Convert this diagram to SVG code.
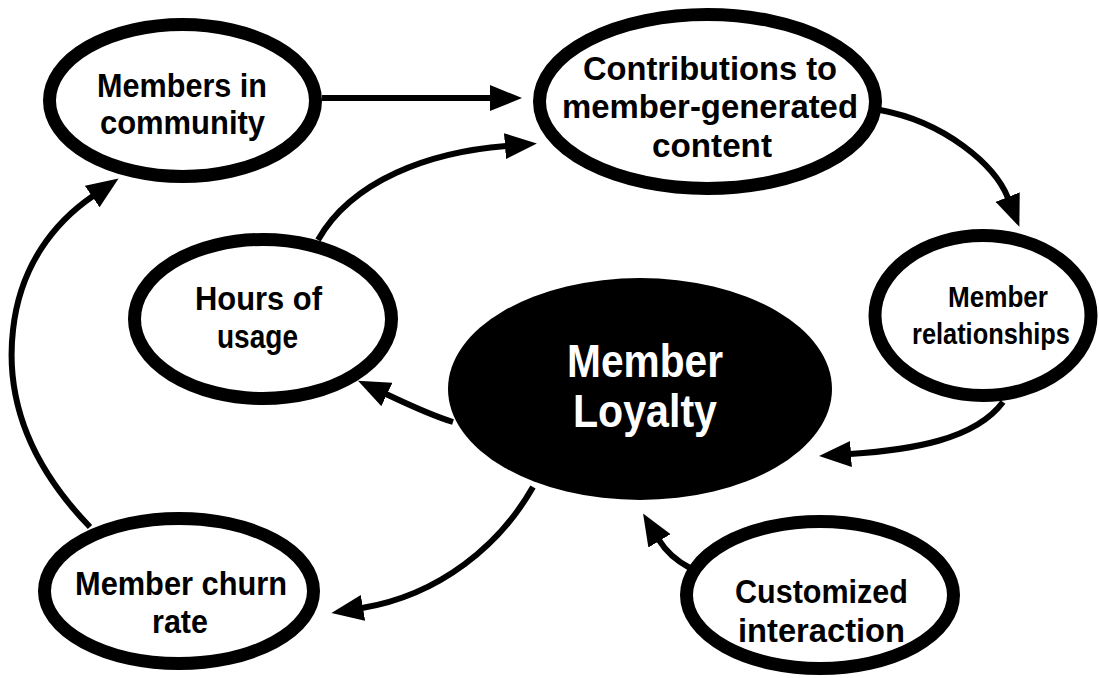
<svg xmlns="http://www.w3.org/2000/svg" width="1099" height="678" viewBox="0 0 1099 678">
<style>
.node{fill:#fff;stroke:#000;stroke-width:13}
.core{fill:#000;stroke:none}
.lbl{font-family:"Liberation Sans",Arial,sans-serif;font-weight:bold;font-size:34px;fill:#000;text-anchor:middle}
.sm{font-size:29px}
.big{font-size:47px;fill:#fff}
.conn{fill:none;stroke:#000;stroke-width:6;stroke-linecap:butt}
</style>
<defs>
<marker id="ah" markerUnits="userSpaceOnUse" viewBox="0 0 32 26" markerWidth="32" markerHeight="26" refX="1" refY="13" orient="auto">
<path d="M0,0 L32,13 L0,26 Z" fill="#000"/>
</marker>
</defs>
<rect width="1099" height="678" fill="#fff"/>
<g id="connectors">
<path class="conn" marker-end="url(#ah)" d="M322,98 L491,98"/>
<path class="conn" marker-end="url(#ah)" d="M318,240 C352,180 430,152 506,146"/>
<path class="conn" marker-end="url(#ah)" d="M880,110 C945,122 995,165 1008,198"/>
<path class="conn" marker-end="url(#ah)" d="M1003,402 C975,440 910,450 850,454"/>
<path class="conn" marker-end="url(#ah)" d="M690,568 C675,560 665,550 659,540"/>
<path class="conn" marker-end="url(#ah)" d="M453,422 C430,415 405,403 386,394"/>
<path class="conn" marker-end="url(#ah)" d="M533,487 C500,545 440,595 362,608"/>
<path class="conn" marker-end="url(#ah)" d="M90,527 C30,465 5,400 13,330 C20,265 55,222 93,196"/>
</g>
<g id="members-in-community">
<ellipse class="node" cx="182.5" cy="100.5" rx="133" ry="76"/>
<text class="lbl" x="182" y="97" textLength="170" lengthAdjust="spacingAndGlyphs">Members in</text>
<text class="lbl" x="182.5" y="134" textLength="165" lengthAdjust="spacingAndGlyphs">community</text>
</g>
<g id="contributions">
<ellipse class="node" cx="707.5" cy="101.5" rx="168" ry="87"/>
<text class="lbl" x="710" y="80" textLength="254" lengthAdjust="spacingAndGlyphs">Contributions to</text>
<text class="lbl" x="710" y="118" textLength="296" lengthAdjust="spacingAndGlyphs">member-generated</text>
<text class="lbl" x="712" y="157" textLength="120" lengthAdjust="spacingAndGlyphs">content</text>
</g>
<g id="hours-of-usage">
<ellipse class="node" cx="263" cy="319" rx="128.5" ry="79.5"/>
<text class="lbl" x="258.5" y="310" textLength="127" lengthAdjust="spacingAndGlyphs">Hours of</text>
<text class="lbl" x="257.5" y="348" textLength="81" lengthAdjust="spacingAndGlyphs">usage</text>
</g>
<g id="member-relationships">
<ellipse class="node" cx="983" cy="315.5" rx="108" ry="80"/>
<text class="lbl sm" x="998" y="307" textLength="100" lengthAdjust="spacingAndGlyphs">Member</text>
<text class="lbl sm" x="991" y="344" textLength="158" lengthAdjust="spacingAndGlyphs">relationships</text>
</g>
<g id="member-loyalty">
<ellipse class="core" cx="640" cy="389" rx="192" ry="111"/>
<text class="lbl big" x="645" y="377" textLength="156" lengthAdjust="spacingAndGlyphs">Member</text>
<text class="lbl big" x="645" y="427" textLength="144" lengthAdjust="spacingAndGlyphs">Loyalty</text>
</g>
<g id="member-churn-rate">
<ellipse class="node" cx="179" cy="591" rx="134.5" ry="72.5"/>
<text class="lbl" x="181" y="595" textLength="212" lengthAdjust="spacingAndGlyphs">Member churn</text>
<text class="lbl" x="180" y="633" textLength="56" lengthAdjust="spacingAndGlyphs">rate</text>
</g>
<g id="customized-interaction">
<ellipse class="node" cx="820" cy="595" rx="133.5" ry="73.5"/>
<text class="lbl" x="821.5" y="603" textLength="173" lengthAdjust="spacingAndGlyphs">Customized</text>
<text class="lbl" x="821.5" y="642" textLength="167" lengthAdjust="spacingAndGlyphs">interaction</text>
</g>
</svg>
